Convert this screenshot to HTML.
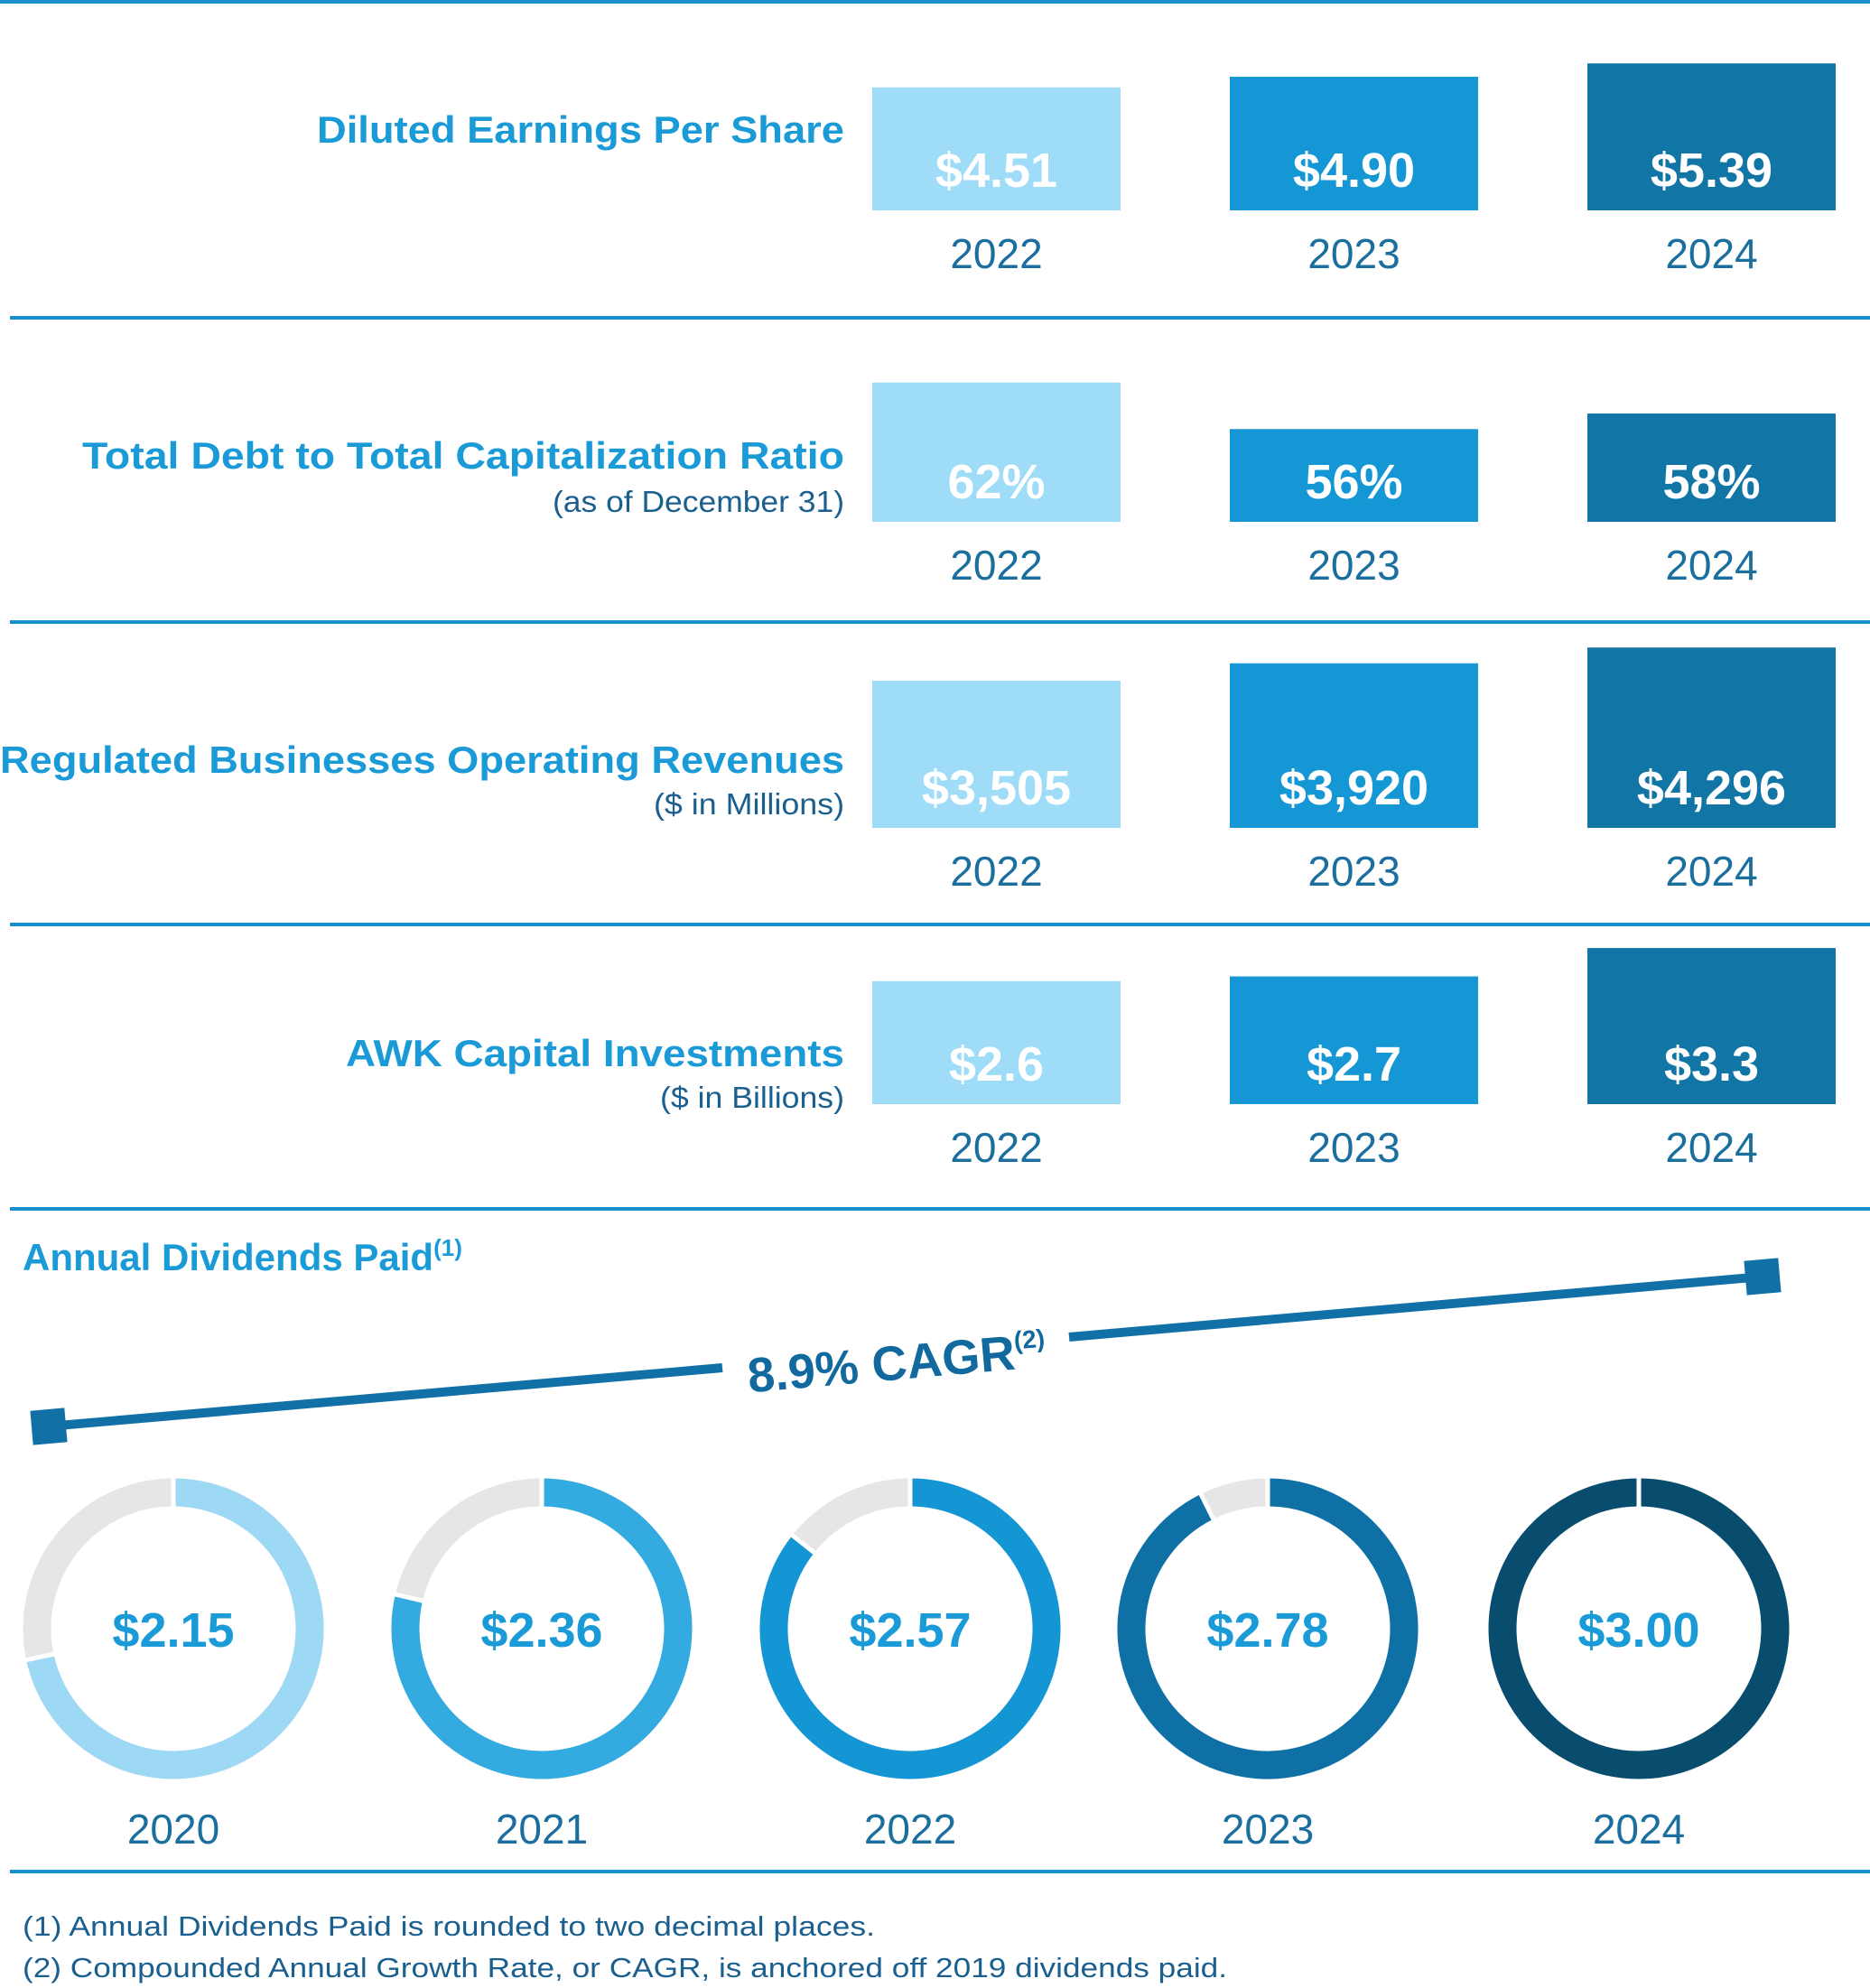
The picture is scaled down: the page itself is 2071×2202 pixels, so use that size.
<!DOCTYPE html>
<html><head><meta charset="utf-8"><style>
html,body{margin:0;padding:0;background:#fff;}
svg{display:block;}
text{font-family:"Liberation Sans",sans-serif;}
</style></head><body>
<svg id="chart" width="2071" height="2202" viewBox="0 0 2071 2202" xmlns="http://www.w3.org/2000/svg">
<g id="seps">
<rect x="0" y="0" width="2071" height="4" fill="#1a8fce"/>
<rect x="11" y="350" width="2060" height="4" fill="#1a8fce"/>
<rect x="11" y="687" width="2060" height="4" fill="#1a8fce"/>
<rect x="11" y="1022" width="2060" height="4" fill="#1a8fce"/>
<rect x="11" y="1337" width="2060" height="4" fill="#1a8fce"/>
<rect x="11" y="2071" width="2060" height="4" fill="#1a8fce"/>
</g>
<g font-weight="bold" fill="#1a9ad6" text-anchor="end">
<text x="935" y="158" font-size="42" textLength="584" lengthAdjust="spacingAndGlyphs">Diluted Earnings Per Share</text>
<text x="935" y="519" font-size="42" textLength="844" lengthAdjust="spacingAndGlyphs">Total Debt to Total Capitalization Ratio</text>
<text x="935" y="856" font-size="42" textLength="935" lengthAdjust="spacingAndGlyphs">Regulated Businesses Operating Revenues</text>
<text x="935" y="1181" font-size="42" textLength="552" lengthAdjust="spacingAndGlyphs">AWK Capital Investments</text>
</g>
<g fill="#1b5f8f" text-anchor="end" font-size="33">
<text x="935" y="567" textLength="323" lengthAdjust="spacingAndGlyphs">(as of December 31)</text>
<text x="935" y="902" textLength="211" lengthAdjust="spacingAndGlyphs">($ in Millions)</text>
<text x="935" y="1227" textLength="204" lengthAdjust="spacingAndGlyphs">($ in Billions)</text>
</g>
<g id="bars"></g>
<text x="25" y="1407" font-size="42" font-weight="bold" fill="#1a9ad6">Annual Dividends Paid<tspan font-size="26" dy="-16">(1)</tspan></text>
<g>
<line x1="53" y1="1580" x2="800" y2="1515" stroke="#1170a5" stroke-width="10"/>
<line x1="1184" y1="1481" x2="1952" y2="1414" stroke="#1170a5" stroke-width="10"/>
<rect x="35" y="1561" width="38" height="38" fill="#1170a5" transform="rotate(-5 54 1580)"/>
<rect x="1933" y="1395" width="38" height="38" fill="#1170a5" transform="rotate(-5 1952 1414)"/>
<text x="993" y="1528" font-size="54" font-weight="bold" fill="#11699e" text-anchor="middle" transform="rotate(-5 993 1509)">8.9% CAGR<tspan font-size="28" dy="-22">(2)</tspan></text>
</g>
<g id="donuts"></g>
<g fill="#1b5f8f" font-size="31">
<text x="25" y="2144" textLength="944" lengthAdjust="spacingAndGlyphs">(1)  Annual Dividends Paid is rounded to two decimal places.</text>
<text x="25" y="2190" textLength="1334" lengthAdjust="spacingAndGlyphs">(2)  Compounded Annual Growth Rate, or CAGR, is anchored off 2019 dividends paid.</text>
</g>
</svg>
<script>
const barYears = ["2022", "2023", "2024"];
const epsValues = [4.51, 4.90, 5.39];
const epsLabels = ["$4.51", "$4.90", "$5.39"];
const debtValues = [62, 56, 58];
const debtLabels = ["62%", "56%", "58%"];
const revenueValues = [3505, 3920, 4296];
const revenueLabels = ["$3,505", "$3,920", "$4,296"];
const capexValues = [2.6, 2.7, 3.3];
const capexLabels = ["$2.6", "$2.7", "$3.3"];
const divYears = ["2020", "2021", "2022", "2023", "2024"];
const divValues = [2.15, 2.36, 2.57, 2.78, 3.00];
const divLabels = ["$2.15", "$2.36", "$2.57", "$2.78", "$3.00"];

const NS = "http://www.w3.org/2000/svg";
const barColors = ["#9edcf8", "#1697d5", "#1175a6"];
const barX = [966, 1362, 1758];
const barW = 275;
function mk(tag, attrs, parent) {
  const e = document.createElementNS(NS, tag);
  for (const k in attrs) e.setAttribute(k, attrs[k]);
  parent.appendChild(e);
  return e;
}
const rows = [
  {name: "eps", vals: epsValues, labels: epsLabels, bottom: 233, scale: v => v * 30.2},
  {name: "debt", vals: debtValues, labels: debtLabels, bottom: 578, scale: v => 125.7 + (v - 58.67) * 8.6},
  {name: "revenue", vals: revenueValues, labels: revenueLabels, bottom: 917, scale: v => v * 0.0465},
  {name: "capex", vals: capexValues, labels: capexLabels, bottom: 1223, scale: v => v * 52.4}
];
const barsG = document.getElementById("bars");
rows.forEach(r => {
  const g = mk("g", {}, barsG);
  
  
  r.vals.forEach((v, i) => {
    const h = r.scale(v);
    const rect = mk("rect", {x: barX[i], y: r.bottom - h, width: barW, height: h, fill: barColors[i]}, g);
    
    
    const t = mk("text", {x: barX[i] + barW / 2, y: r.bottom - 26, "font-size": 54, "font-weight": "bold", fill: "#fff", "text-anchor": "middle"}, g);
    t.textContent = r.labels[i];
    
    
    const y = mk("text", {x: barX[i] + barW / 2, y: r.bottom + 64, "font-size": 46, fill: "#1b6f9f", "text-anchor": "middle"}, g);
    y.textContent = barYears[i];
    
    
  });
});

const donutColors = ["#9dd8f4", "#33aae0", "#1596d4", "#0f70a6", "#084c6e"];
const donutCx = [192, 600, 1008, 1404, 1815];
const donutCy = 1804, rMid = 151, ringW = 31;
const maxDiv = 3.00;
const donutG = document.getElementById("donuts");
function pt(a, r, cx) { return [cx + r * Math.sin(a), donutCy - r * Math.cos(a)]; }
function arc(cx, a0, a1) {
  const p0 = pt(a0, rMid, cx), p1 = pt(a1, rMid, cx);
  const large = (a1 - a0) > Math.PI ? 1 : 0;
  return `M${p0[0]},${p0[1]} A${rMid},${rMid} 0 ${large} 1 ${p1[0]},${p1[1]}`;
}
divValues.forEach((v, i) => {
  const cx = donutCx[i];
  const g = mk("g", {}, donutG);
  
  
  const f = Math.min(v / maxDiv, 0.99999);
  const aEnd = f * 2 * Math.PI;
  const bg = mk("circle", {cx: cx, cy: donutCy, r: rMid, fill: "none", stroke: "#e6e6e6", "stroke-width": ringW}, g);
  
  
  const p = mk("path", {d: arc(cx, 0, aEnd), fill: "none", stroke: donutColors[i], "stroke-width": ringW}, g);
  
  
  [0, aEnd].forEach((a, k) => {
    const q0 = pt(a, rMid - ringW / 2 - 2, cx), q1 = pt(a, rMid + ringW / 2 + 2, cx);
    const s = mk("line", {x1: q0[0], y1: q0[1], x2: q1[0], y2: q1[1], stroke: "#fff", "stroke-width": 5}, g);
    
    
  });
  const t = mk("text", {x: cx, y: donutCy + 20, "font-size": 54, "font-weight": "bold", fill: "#1a9ad6", "text-anchor": "middle"}, g);
  t.textContent = divLabels[i];
  
  
  const y = mk("text", {x: cx, y: 2042, "font-size": 46, fill: "#1b6f9f", "text-anchor": "middle"}, g);
  y.textContent = divYears[i];
  
  
});
</script>
</body></html>
